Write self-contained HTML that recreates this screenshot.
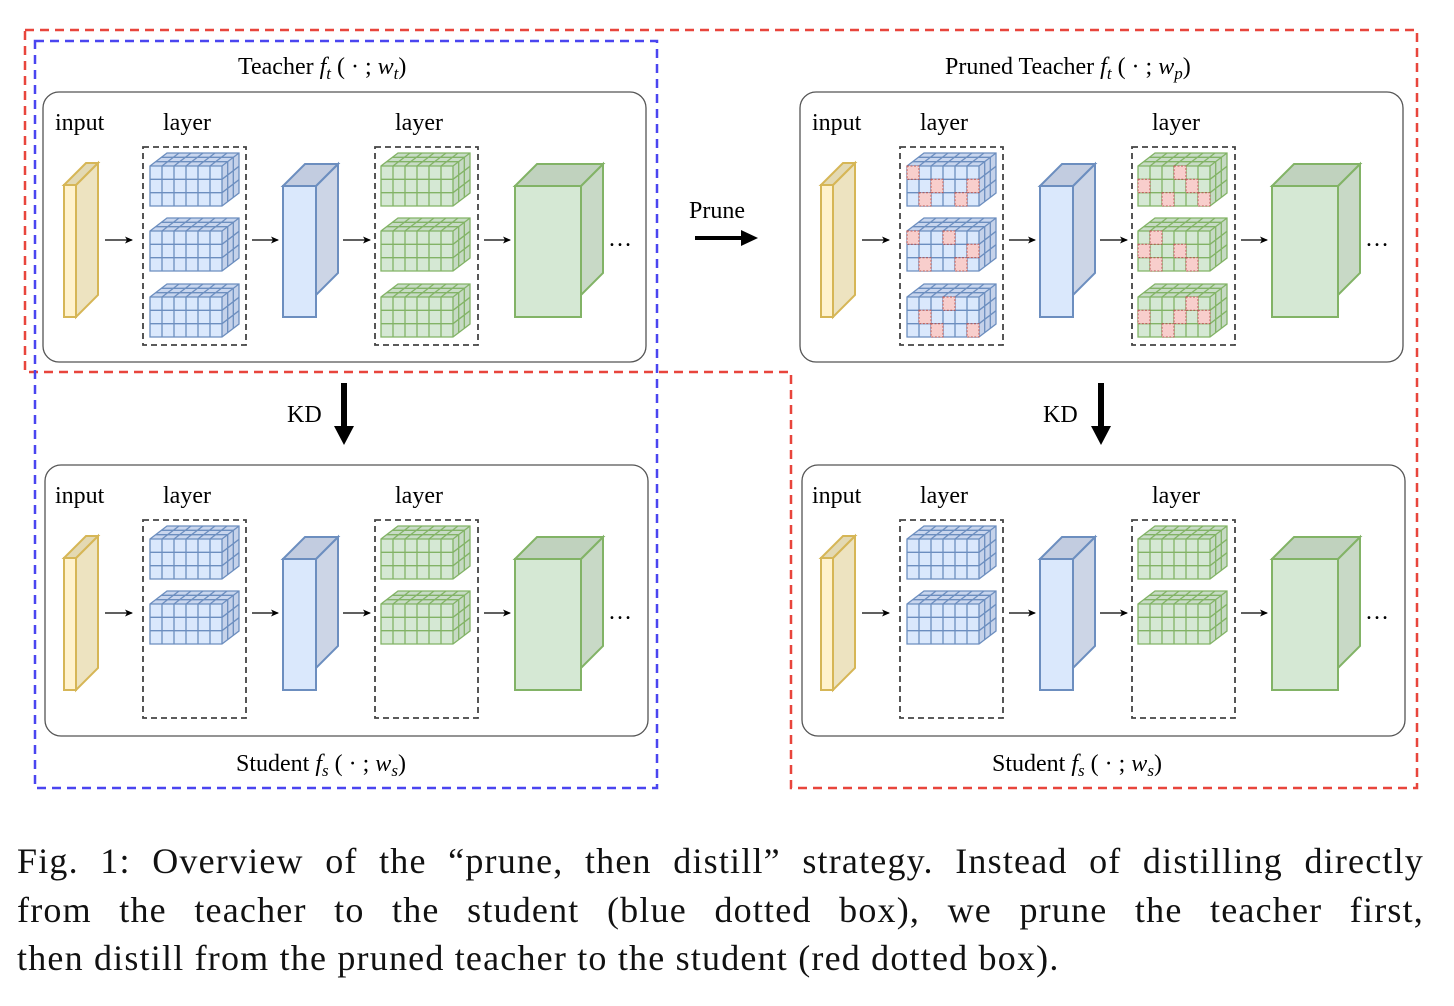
<!DOCTYPE html>
<html><head><meta charset="utf-8"><style>
html,body{margin:0;padding:0;background:#fff}
svg{display:block}
text{font-family:"Liberation Serif",serif;fill:#000}
.cap{position:absolute;left:17px;width:1407px;font-family:"Liberation Serif",serif;font-size:36px;line-height:48.5px;top:837px;color:#111;letter-spacing:1.2px}
.cap div{white-space:nowrap}
.j{text-align:justify;text-align-last:justify;white-space:normal!important}
</style></head><body>
<svg width="1454" height="1006" viewBox="0 0 1454 1006" xmlns="http://www.w3.org/2000/svg">
<defs>
<marker id="ah" markerWidth="8" markerHeight="8" refX="7" refY="4" orient="auto" markerUnits="userSpaceOnUse"><path d="M0,0.5 L8,4 L0,7.5 L2,4z" fill="#000"/></marker>
<g id="gridlines">
 <path d="M12,0V40M24,0V40M36,0V40M48,0V40M60,0V40M0,13.3H72M0,26.7H72
 M5.7,-4.3H77.7M11.3,-8.7H83.3M12,0l17,-13M24,0l17,-13M36,0l17,-13M48,0l17,-13M60,0l17,-13
 M77.7,-4.3V35.7M83.3,-8.7V31.3M72,13.3l17,-13M72,26.7l17,-13" fill="none"/>
</g>
<g id="bb">
 <path d="M0,0L17,-13H89L72,0z" fill="#c9d6ee"/>
 <path d="M72,0L89,-13V27L72,40z" fill="#c5d2ea"/>
 <rect x="0" y="0" width="72" height="40" fill="#dae8fc"/>
 <g stroke="#6c8ebf" stroke-width="1.3"><use href="#gridlines"/>
 <path d="M0,0L17,-13H89V27L72,40H0zM72,0V40M0,0H72L89,-13" fill="none"/></g>
</g>
<g id="gb">
 <path d="M0,0L17,-13H89L72,0z" fill="#c8dcc6"/>
 <path d="M72,0L89,-13V27L72,40z" fill="#c6dac4"/>
 <rect x="0" y="0" width="72" height="40" fill="#d5e8d4"/>
 <g stroke="#82b366" stroke-width="1.3"><use href="#gridlines"/>
 <path d="M0,0L17,-13H89V27L72,40H0zM72,0V40M0,0H72L89,-13" fill="none"/></g>
</g>
<g id="pk" fill="#f8cecc" stroke="#b85450" stroke-width="1" stroke-dasharray="2,1.5">
 <rect x="0" y="0" width="12" height="13.3"/>
</g>
<g id="inp">
 <path d="M12,22L34,0V132L12,154z" fill="#ede3c0" stroke="#d6b656" stroke-width="2"/>
 <path d="M0,22L22,0H34L12,22z" fill="#e3d9b3" stroke="#d6b656" stroke-width="2"/>
 <rect x="0" y="22" width="12" height="132" fill="#fff2cc" stroke="#d6b656" stroke-width="2"/>
</g>
<g id="bbox">
 <path d="M33,22L55,0V109L33,131z" fill="#ccd5e6" stroke="#6c8ebf" stroke-width="2"/>
 <path d="M0,22L22,0H55L33,22z" fill="#c2cce0" stroke="#6c8ebf" stroke-width="2"/>
 <rect x="0" y="22" width="33" height="131" fill="#dae8fc" stroke="#6c8ebf" stroke-width="2"/>
</g>
<g id="gbox">
 <path d="M66,22L88,0V109L66,131z" fill="#c8d9c6" stroke="#82b366" stroke-width="2"/>
 <path d="M0,22L22,0H88L66,22z" fill="#c0d2be" stroke="#82b366" stroke-width="2"/>
 <rect x="0" y="22" width="66" height="131" fill="#d5e8d4" stroke="#82b366" stroke-width="2"/>
</g>
<g id="arrows" stroke="#000" stroke-width="1.3" marker-end="url(#ah)">
 <line x1="105" y1="240" x2="132" y2="240"/><line x1="252" y1="240" x2="278" y2="240"/>
 <line x1="343" y1="240" x2="370" y2="240"/><line x1="484" y1="240" x2="510" y2="240"/>
</g>
<g id="common">
 <text x="55" y="130" font-size="24">input</text>
 <text x="163" y="130" font-size="24">layer</text>
 <text x="395" y="130" font-size="24">layer</text>
 <use href="#inp" x="64" y="163"/>
 <use href="#bbox" x="283" y="164"/>
 <use href="#gbox" x="515" y="164"/>
 <use href="#arrows"/>
 <text x="608" y="246" font-size="24">…</text>
 <rect x="143" y="147" width="103" height="198" fill="none" stroke="#444" stroke-width="1.8" stroke-dasharray="6,4"/>
 <rect x="375" y="147" width="103" height="198" fill="none" stroke="#444" stroke-width="1.8" stroke-dasharray="6,4"/>
</g>
<g id="teach">
 <rect x="43" y="92" width="603" height="270" rx="16" fill="none" stroke="#555" stroke-width="1.3"/>
 <use href="#common"/>
 <use href="#bb" x="150" y="166"/><use href="#bb" x="150" y="231"/><use href="#bb" x="150" y="297"/>
 <use href="#gb" x="381" y="166"/><use href="#gb" x="381" y="231"/><use href="#gb" x="381" y="297"/>
</g>
<g id="stud">
 <rect x="45" y="92" width="603" height="271" rx="16" fill="none" stroke="#555" stroke-width="1.3"/>
 <use href="#common"/>
 <use href="#bb" x="150" y="166"/><use href="#bb" x="150" y="231"/>
 <use href="#gb" x="381" y="166"/><use href="#gb" x="381" y="231"/>
</g>
</defs>

<path d="M25,30H1417V788H791V372H25z" fill="none" stroke="#e8453c" stroke-width="2.5" stroke-dasharray="9,6"/>
<rect x="35" y="41" width="622" height="747" fill="none" stroke="#4a45f0" stroke-width="2.5" stroke-dasharray="9,6"/>

<text x="238" y="74" font-size="24">Teacher <tspan font-style="italic">f</tspan><tspan font-style="italic" font-size="17" dy="5">t</tspan><tspan dy="-5"> ( · ; </tspan><tspan font-style="italic">w</tspan><tspan font-style="italic" font-size="17" dy="5">t</tspan><tspan dy="-5">)</tspan></text>
<use href="#teach"/>

<g transform="translate(0,373)"><use href="#stud"/></g>
<text x="236" y="771" font-size="24">Student <tspan font-style="italic">f</tspan><tspan font-style="italic" font-size="17" dy="5">s</tspan><tspan dy="-5"> ( · ; </tspan><tspan font-style="italic">w</tspan><tspan font-style="italic" font-size="17" dy="5">s</tspan><tspan dy="-5">)</tspan></text>

<text x="945" y="74" font-size="24">Pruned Teacher <tspan font-style="italic">f</tspan><tspan font-style="italic" font-size="17" dy="5">t</tspan><tspan dy="-5"> ( · ; </tspan><tspan font-style="italic">w</tspan><tspan font-style="italic" font-size="17" dy="5">p</tspan><tspan dy="-5">)</tspan></text>
<g transform="translate(757,0)">
 <use href="#teach"/>
 <g transform="translate(150,166)"><use href="#pk" x="0" y="0"/><use href="#pk" x="24" y="13.3"/><use href="#pk" x="12" y="26.7"/><use href="#pk" x="48" y="26.7"/><use href="#pk" x="60" y="13.3"/></g>
 <g transform="translate(150,231)"><use href="#pk" x="0" y="0"/><use href="#pk" x="36" y="0"/><use href="#pk" x="60" y="13.3"/><use href="#pk" x="12" y="26.7"/><use href="#pk" x="48" y="26.7"/></g>
 <g transform="translate(150,297)"><use href="#pk" x="36" y="0"/><use href="#pk" x="12" y="13.3"/><use href="#pk" x="24" y="26.7"/><use href="#pk" x="60" y="26.7"/></g>
 <g transform="translate(381,166)"><use href="#pk" x="36" y="0"/><use href="#pk" x="0" y="13.3"/><use href="#pk" x="48" y="13.3"/><use href="#pk" x="24" y="26.7"/><use href="#pk" x="60" y="26.7"/></g>
 <g transform="translate(381,231)"><use href="#pk" x="12" y="0"/><use href="#pk" x="0" y="13.3"/><use href="#pk" x="36" y="13.3"/><use href="#pk" x="12" y="26.7"/><use href="#pk" x="48" y="26.7"/></g>
 <g transform="translate(381,297)"><use href="#pk" x="48" y="0"/><use href="#pk" x="0" y="13.3"/><use href="#pk" x="36" y="13.3"/><use href="#pk" x="60" y="13.3"/><use href="#pk" x="24" y="26.7"/></g>
</g>

<g transform="translate(757,373)"><use href="#stud"/></g>
<text x="992" y="771" font-size="24">Student <tspan font-style="italic">f</tspan><tspan font-style="italic" font-size="17" dy="5">s</tspan><tspan dy="-5"> ( · ; </tspan><tspan font-style="italic">w</tspan><tspan font-style="italic" font-size="17" dy="5">s</tspan><tspan dy="-5">)</tspan></text>

<text x="689" y="218" font-size="24">Prune</text>
<path d="M695,236H741V230L758,238L741,246V240H695z" fill="#000"/>

<text x="287" y="422" font-size="24">KD</text>
<path d="M341,383H347V426H354L344,445L334,426H341z" fill="#000"/>
<text x="1043" y="422" font-size="24">KD</text>
<path d="M1098,383H1104V426H1111L1101,445L1091,426H1098z" fill="#000"/>
</svg>
<div class="cap">
<div class="j">Fig. 1: Overview of the “prune, then distill” strategy. Instead of distilling directly</div>
<div class="j">from the teacher to the student (blue dotted box), we prune the teacher first,</div>
<div>then distill from the pruned teacher to the student (red dotted box).</div>
</div>
</body></html>
